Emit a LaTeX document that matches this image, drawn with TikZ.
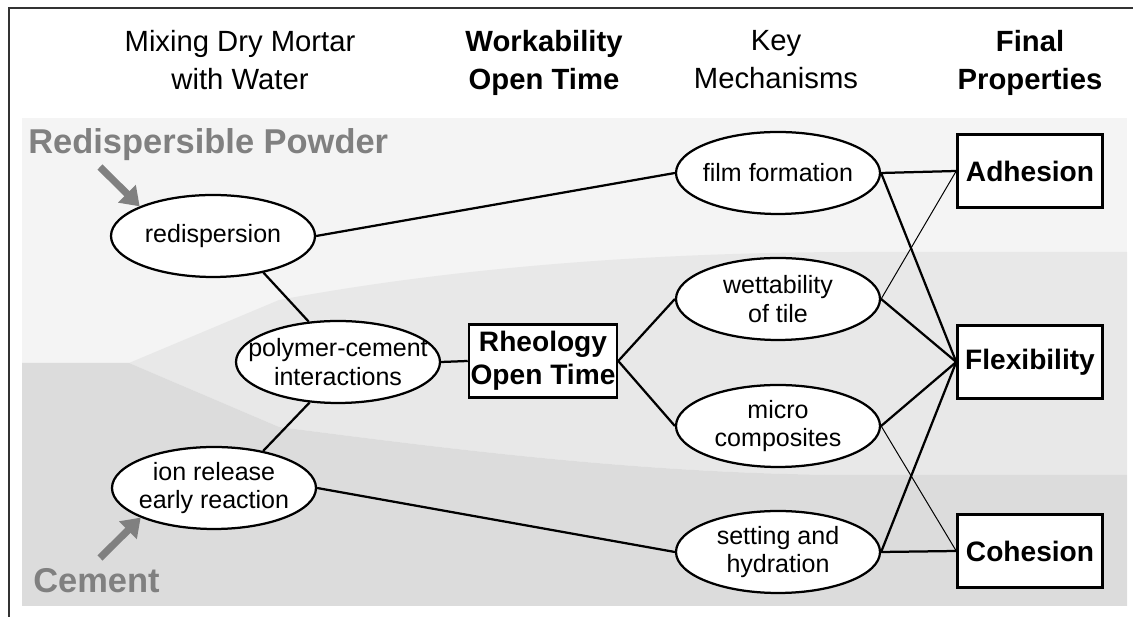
\documentclass[tikz,border=0pt]{standalone}
\usepackage{fontspec}
\setmainfont{Liberation Sans}
\usepackage{xcolor}
\usetikzlibrary{shapes.geometric,arrows.meta}
\definecolor{MTLight}{HTML}{F4F4F4}
\definecolor{MTMid}{HTML}{E8E8E8}
\definecolor{MTDark}{HTML}{DCDCDC}
\definecolor{MTArrow}{HTML}{808080}
\definecolor{MTFrame}{HTML}{333333}
\begin{document}
\begin{tikzpicture}[x=1cm,y=1cm,
  mech/.style={ellipse,draw,line width=1.6pt,fill=white,minimum width=5.1cm,minimum height=2.05cm,inner xsep=-1.2cm,inner ysep=-0.3cm,align=center,font=\fontsize{17.8}{20.5}\selectfont},
  prop/.style={rectangle,draw,line width=1.8pt,fill=white,minimum width=3.7cm,minimum height=1.83cm,inner sep=0pt,align=center,font=\fontsize{20}{23.5}\selectfont\bfseries},
  head/.style={anchor=north,inner sep=0pt,align=center,font=\fontsize{20.8}{27.4}\selectfont},
  boldhead/.style={head,font=\fontsize{20.8}{27.4}\selectfont\bfseries},
  link/.style={line width=1.6pt},
  thinlink/.style={line width=0.7pt},
  feed/.style={MTArrow,line width=0.18cm,-{Triangle[width=0.6cm,length=0.45cm]}},
  feedlabel/.style={anchor=base west,inner sep=0pt,text=MTArrow,font=\fontsize{24.5}{28}\selectfont\bfseries}]
\path[use as bounding box] (0,0) rectangle (28.325,15.425);
\draw[MTFrame,line width=1.2pt] (0.225,0) -- (0.225,15.225) -- (28.325,15.225);
% shaded bands
\fill[MTLight] (0.55,0.275) rectangle (28.175,12.475);
\fill[MTMid] (3.225,6.35) -- (6.975,7.925) .. controls (11.25,8.725) and (16.25,9.125) .. (21.5,9.125)
  -- (28.175,9.125) -- (28.175,3.55) -- (21.5,3.55) .. controls (16.25,3.55) and (11.25,4.2) .. (6.975,4.75) -- cycle;
\fill[MTDark] (0.55,0.275) -- (0.55,6.35) -- (3.225,6.35) -- (6.975,4.75) .. controls (11.25,4.2) and (16.25,3.55) .. (21.5,3.55)
  -- (28.175,3.55) -- (28.175,0.275) -- cycle;
% column heads
\node[head] (hmix) at (6.0,14.675) {Mixing Dry Mortar\\with Water};
\node[boldhead] (hwork) at (13.6,14.675) {Workability\\Open Time};
\node[head] (hkey) at (19.4,14.675) {Key\\Mechanisms};
\node[boldhead] (hfinal) at (25.75,14.675) {Final\\Properties};
% nodes
\node[mech] (redisp) at (5.325,9.525) {redispersion};
\node[mech] (poly) at (8.45,6.375) {polymer-cement\\interactions};
\node[mech] (ion) at (5.35,3.225) {ion release\\early reaction};
\node[prop] (rheo) at (13.575,6.4) {Rheology\\Open Time};
\node[mech] (film) at (19.45,11.1) {film formation};
\node[mech] (wett) at (19.45,7.95) {wettability\\of tile};
\node[mech] (micro) at (19.45,4.775) {micro\\composites};
\node[mech] (setting) at (19.45,1.625) {setting and\\hydration};
\node[prop,minimum width=3.625cm] (adh) at (25.75,11.15) {Adhesion};
\node[prop,minimum width=3.625cm] (flex) at (25.75,6.375) {Flexibility};
\node[prop,minimum width=3.625cm] (coh) at (25.75,1.65) {Cohesion};
% connectors
\draw[link] (redisp.east) -- (film.west);
\draw[link] (redisp.-36) -- (poly.126);
\draw[link] (poly.-125) -- (ion.37);
\draw[link] (poly.east) -- (rheo.west);
\draw[link] (ion.east) -- (setting.west);
\draw[link] (rheo.east) -- (wett.west);
\draw[link] (rheo.east) -- (micro.west);
\draw[link] (film.east) -- (adh.west);
\draw[link] (film.east) -- (flex.west);
\draw[thinlink] (wett.east) -- (adh.west);
\draw[link] (wett.east) -- (flex.west);
\draw[link] (micro.east) -- (flex.west);
\draw[thinlink] (micro.east) -- (coh.west);
\draw[link] (setting.east) -- (flex.west);
\draw[link] (setting.east) -- (coh.west);
% inputs
\node[feedlabel] (powder) at (0.7,11.575) {Redispersible Powder};
\node[feedlabel] (cement) at (0.825,0.6) {Cement};
\coordinate (powdertail) at (2.5,11.25);
\coordinate (cementtail) at (2.5,1.475);
\draw[feed] (powdertail) -- (redisp.158);
\draw[feed] (cementtail) -- (ion.-158);
\end{tikzpicture}
\end{document}
